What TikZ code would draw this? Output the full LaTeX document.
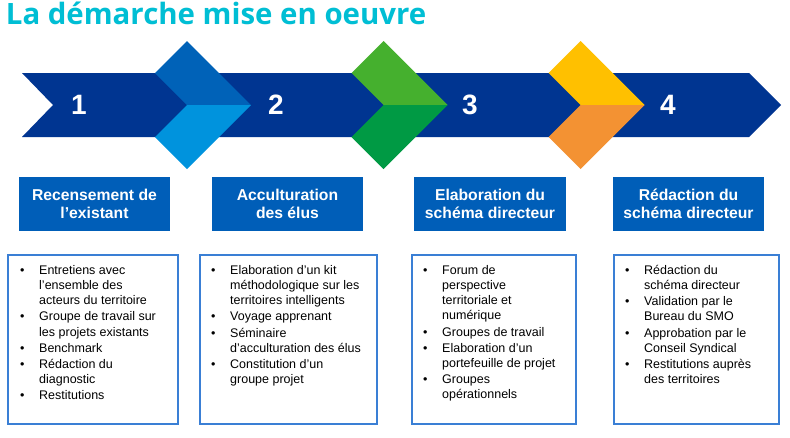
\documentclass[tikz,border=0pt]{standalone}
\usepackage{fontspec}
\setmainfont{Liberation Sans}
\newfontfamily\titlefont{Open Sans}
\definecolor{bandcol}{RGB}{0,53,145}
\definecolor{c1a}{RGB}{0,98,184}
\definecolor{c1b}{RGB}{0,147,221}
\definecolor{c2a}{RGB}{69,176,46}
\definecolor{c2b}{RGB}{0,154,68}
\definecolor{c3a}{RGB}{255,192,0}
\definecolor{c3b}{RGB}{243,146,51}
\definecolor{hdrcol}{RGB}{0,94,184}
\definecolor{bordercol}{RGB}{58,127,213}
\definecolor{titlecol}{RGB}{0,190,212}
\newcommand{\itm}{\makebox[19pt][l]{•}}
\newcommand{\cnt}{\hspace*{19pt}}
\tikzset{
  num/.style={text=white, font=\bfseries\fontsize{28}{30}\selectfont, inner sep=0pt},
  hdr/.style={fill=hdrcol, text=white, align=center, inner sep=0pt,
    font=\bfseries\fontsize{15.7}{18.3}\selectfont, minimum height=54pt},
  listbox/.style={draw=bordercol, line width=1.5pt, inner sep=0pt, minimum height=169pt},
  listtext/.style={anchor=north west, align=left, inner sep=0pt,
    font=\fontsize{12.5}{15.2}\selectfont}
}
\begin{document}
\begin{tikzpicture}[x=1pt,y=-1pt]
\useasboundingbox (0,0) rectangle (790,437);
\fill[white] (0,0) rectangle (790,437);
% title
\node[anchor=base west, inner sep=0pt, text=titlecol,
  font=\titlefont\bfseries\fontsize{29.4}{32}\selectfont] (title) at (5.7,24) {La démarche mise en oeuvre};
% band
\fill[bandcol] (22,73) -- (749,73) -- (781,105) -- (749,137) -- (22,137) -- (53,105) -- cycle;
% chevrons
\foreach \cx/\ca/\cb in {187/c1a/c1b, 383.5/c2a/c2b, 580.5/c3a/c3b} {
  \fill[\ca] ({\cx-32},73) -- (\cx,41) -- ({\cx+64},105) -- (\cx,105) -- cycle;
  \fill[\cb] (\cx,105) -- ({\cx+64},105) -- (\cx,169) -- ({\cx-32},137) -- cycle;
}
% numbers
\node[num] (n1) at (79,105) {1};
\node[num] (n2) at (276,105) {2};
\node[num] (n3) at (470,105) {3};
\node[num] (n4) at (668,105) {4};
% headers
\node[hdr, minimum width=151pt] (h1) at (94.5,204) {Recensement de\\l’existant};
\node[hdr, minimum width=151pt] (h2) at (287.5,204) {Acculturation\\des élus};
\node[hdr, minimum width=152pt] (h3) at (490,204) {Elaboration du\\schéma directeur};
\node[hdr, minimum width=151pt] (h4) at (688.5,204) {Rédaction du\\schéma directeur};
% list boxes
\node[listbox, minimum width=170pt] (b1) at (93,339.5) {};
\node[listbox, minimum width=177pt] (b2) at (288.5,339.5) {};
\node[listbox, minimum width=164pt] (b3) at (494,339.5) {};
\node[listbox, minimum width=165pt] (b4) at (696.5,339.5) {};
% list texts
\node[listtext] (t1) at (20,262) {\rule{0pt}{12pt}\itm Entretiens avec\\\cnt l’ensemble des\\\cnt acteurs du territoire\\[1pt]\itm Groupe de travail sur\\\cnt les projets existants\\[1pt]\itm Benchmark\\[1pt]\itm Rédaction du\\\cnt diagnostic\\[1pt]\itm Restitutions};
\node[listtext] (t2) at (211,262) {\rule{0pt}{12pt}\itm Elaboration d’un kit\\\cnt méthodologique sur les\\\cnt territoires intelligents\\[1pt]\itm Voyage apprenant\\[1pt]\itm Séminaire\\\cnt d’acculturation des élus\\[1pt]\itm Constitution d’un\\\cnt groupe projet};
\node[listtext] (t3) at (423,262) {\rule{0pt}{12pt}\itm Forum de\\\cnt perspective\\\cnt territoriale et\\\cnt numérique\\[1pt]\itm Groupes de travail\\[1pt]\itm Elaboration d'un\\\cnt portefeuille de projet\\[1pt]\itm Groupes\\\cnt opérationnels};
\node[listtext] (t4) at (625,262) {\rule{0pt}{12pt}\itm Rédaction du\\\cnt schéma directeur\\[1pt]\itm Validation par le\\\cnt Bureau du SMO\\[1pt]\itm Approbation par le\\\cnt Conseil Syndical\\[1pt]\itm Restitutions auprès\\\cnt des territoires};
\end{tikzpicture}
\end{document}
